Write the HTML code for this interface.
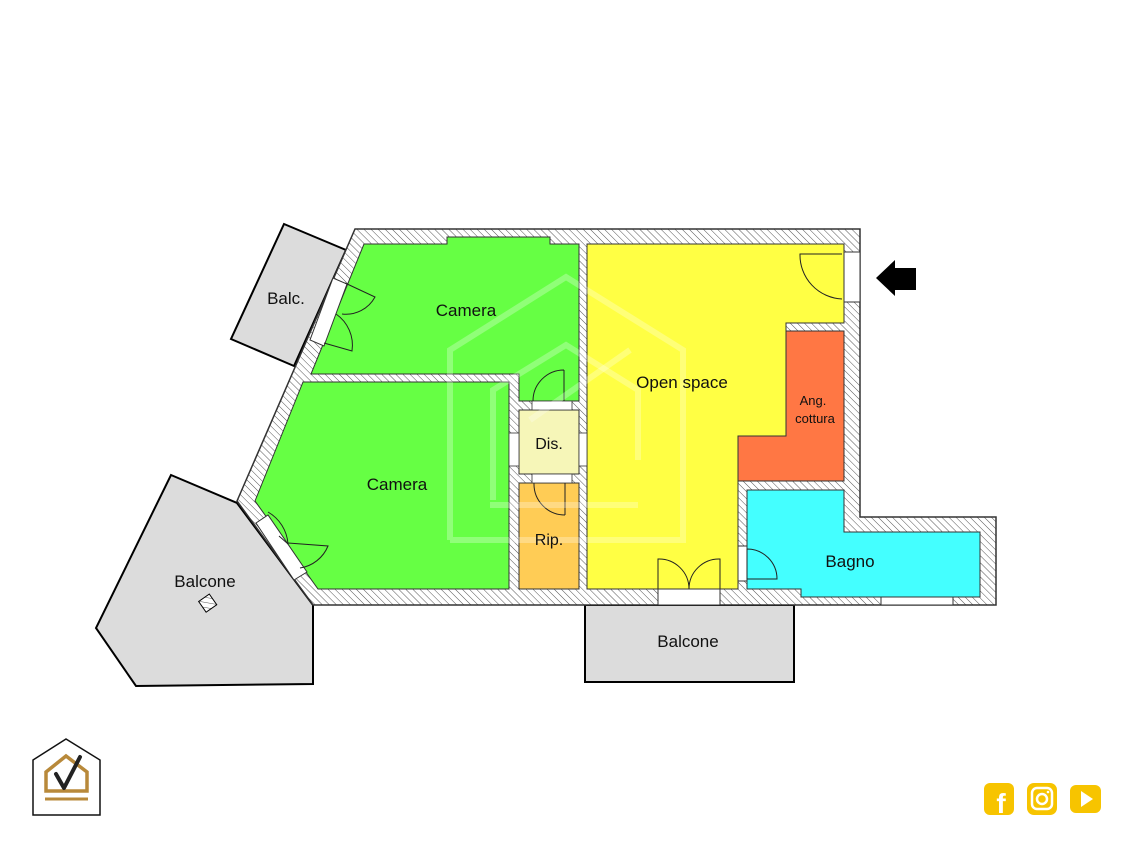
<!DOCTYPE html>
<html><head><meta charset="utf-8"><style>
html,body{margin:0;padding:0;background:#fff;}
svg{display:block;}
text{font-family:"Liberation Sans","DejaVu Sans",sans-serif;fill:#111;}
</style></head><body>
<svg width="1133" height="850" viewBox="0 0 1133 850" xmlns="http://www.w3.org/2000/svg">
<defs>
<pattern id="h" width="5" height="5" patternUnits="userSpaceOnUse" patternTransform="rotate(-45)">
<rect width="5" height="5" fill="#fff"/><line x1="0" y1="0" x2="0" y2="5" stroke="#555" stroke-width="1"/>
</pattern>
</defs>
<polygon points="284,224 346,250 294,366 231,339" fill="#dcdcdc" stroke="#000" stroke-width="2"/>
<polygon points="171,475 237,503 313,605 313,684 136,686 96,628" fill="#dcdcdc" stroke="#000" stroke-width="2"/>
<rect x="585" y="605" width="209" height="77" fill="#dcdcdc" stroke="#000" stroke-width="2"/>
<polygon points="355,229 860,229 860,517 996,517 996,605 313,605 237,501" fill="url(#h)" stroke="#333" stroke-width="1.5"/>
<polygon points="364,244 447,244 447,237 550,237 550,244 579,244 579,401 519,401 519,374 311,374" fill="#66ff44" stroke="#333" stroke-width="1"/>
<polygon points="303,382 509,382 509,589 318,589 255,501" fill="#66ff44" stroke="#333" stroke-width="1"/>
<rect x="519" y="410" width="60" height="64" fill="#f6f6b8" stroke="#333" stroke-width="1"/>
<rect x="519" y="483" width="60" height="106" fill="#ffcc55" stroke="#333" stroke-width="1"/>
<polygon points="587,244 844,244 844,323 786,323 786,436 738,436 738,589 587,589" fill="#ffff44" stroke="#333" stroke-width="1"/>
<polygon points="786,331 844,331 844,481 738,481 738,436 786,436" fill="#ff7744" stroke="#333" stroke-width="1"/>
<polygon points="747,490 844,490 844,532 980,532 980,597 801,597 801,589 747,589" fill="#44ffff" stroke="#333" stroke-width="1"/>
<rect x="844" y="252" width="16" height="50" fill="#fff" stroke="#333" stroke-width="1"/>
<rect x="658" y="589" width="62" height="16" fill="#fff" stroke="#333" stroke-width="1"/>
<rect x="881" y="597" width="72" height="8" fill="#fff" stroke="#333" stroke-width="1"/>
<rect x="738" y="546" width="9" height="35" fill="#fff" stroke="#333" stroke-width="1"/>
<rect x="509" y="433" width="10" height="33" fill="#fff" stroke="#333" stroke-width="0.8"/>
<rect x="579" y="433" width="8" height="33" fill="#fff" stroke="#333" stroke-width="0.8"/>
<rect x="532" y="401" width="40" height="9" fill="#fff" stroke="#333" stroke-width="0.8"/>
<rect x="532" y="474" width="40" height="9" fill="#fff" stroke="#333" stroke-width="0.8"/>
<polygon points="333,278 347,284 324,346 310,340" fill="#fff" stroke="#333" stroke-width="1"/>
<polygon points="256,523 268,515 307,572 294,580" fill="#fff" stroke="#333" stroke-width="1"/>
<g fill="none" stroke="#222" stroke-width="1">
<path d="M345,283 L375,297 A33,33 0 0 1 342,314"/>
<path d="M336,314 A38,38 0 0 1 352,351 L324,343"/>
<path d="M268,512 A40,40 0 0 1 288,544 L279,536"/>
<path d="M288,543 L328,546 A36,36 0 0 1 300,568"/>
<path d="M564,370 L564,401 M564,370 A31,31 0 0 0 533,401"/>
<path d="M565,483 L565,515 M565,515 A31,31 0 0 1 534,483"/>
<path d="M842,254 L800,254 A44,44 0 0 0 842,299"/>
<path d="M658,589 L658,559 A30,30 0 0 1 689,589 M720,589 L720,559 A30,30 0 0 0 689,589"/>
<path d="M747,549 L747,579 L777,579 A30,30 0 0 0 747,549"/>
</g>
<rect x="201" y="597" width="13" height="13" transform="rotate(-35 207 603)" fill="url(#h)" stroke="#000" stroke-width="1"/>
<polygon points="876,278 895,260 895,268 916,268 916,290 895,290 895,296" fill="#000"/>
<g fill="none" stroke="#fff" stroke-opacity="0.28" stroke-width="6">
<polyline points="450,540 450,350 566,277 683,350 683,540 450,540"/>
<polyline points="493,500 493,390 566,345 638,390 638,460"/>
<line x1="490" y1="505" x2="638" y2="505"/>
<line x1="530" y1="420" x2="630" y2="350"/>
</g>
<text x="466" y="316" font-size="17" text-anchor="middle">Camera</text>
<text x="397" y="490" font-size="17" text-anchor="middle">Camera</text>
<text x="286" y="304" font-size="17" text-anchor="middle">Balc.</text>
<text x="205" y="587" font-size="17" text-anchor="middle">Balcone</text>
<text x="688" y="647" font-size="17" text-anchor="middle">Balcone</text>
<text x="549" y="449" font-size="16" text-anchor="middle">Dis.</text>
<text x="549" y="545" font-size="16" text-anchor="middle">Rip.</text>
<text x="682" y="388" font-size="17" text-anchor="middle">Open space</text>
<text x="813" y="405" font-size="13" text-anchor="middle">Ang.</text>
<text x="815" y="423" font-size="13" text-anchor="middle">cottura</text>
<text x="850" y="567" font-size="17" text-anchor="middle">Bagno</text>
<polygon points="33,760 66,739 100,760 100,815 33,815" fill="#fff" stroke="#111" stroke-width="1.5"/>
<polygon points="46,772 66,756 87,772 87,791 46,791" fill="none" stroke="#b8893a" stroke-width="3.5"/>
<line x1="45" y1="799" x2="88" y2="799" stroke="#b8893a" stroke-width="3"/>
<path d="M56,774 L64,788 L80,757" fill="none" stroke="#222" stroke-width="4" stroke-linecap="round" stroke-linejoin="round"/>
<rect x="984" y="783" width="30" height="32" rx="6" fill="#f7c400"/>
<text x="1001" y="813" font-size="28" font-weight="bold" text-anchor="middle" style="fill:#fff">f</text>
<rect x="1027" y="783" width="30" height="32" rx="7" fill="#f7c400"/>
<rect x="1032" y="788" width="20" height="21" rx="5" fill="none" stroke="#fff" stroke-width="2.5"/>
<circle cx="1042" cy="799" r="5" fill="none" stroke="#fff" stroke-width="2.5"/>
<circle cx="1048" cy="792" r="1.3" fill="#fff"/>
<rect x="1070" y="785" width="31" height="28" rx="6" fill="#f7c400"/>
<polygon points="1081,791 1093,799 1081,807" fill="#fff"/>
</svg>
</body></html>
